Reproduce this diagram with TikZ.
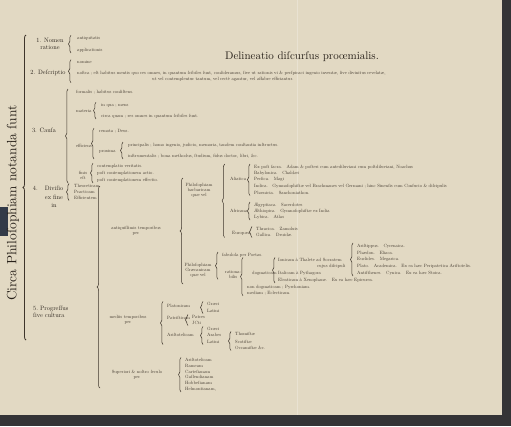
\documentclass[tikz,border=0pt]{standalone}
\usepackage{fontspec}
\setmainfont{lmroman10-regular.otf}
\usetikzlibrary{decorations.pathreplacing}
\definecolor{paper}{RGB}{226,217,195}
\definecolor{ink}{RGB}{62,53,43}
\definecolor{inkd}{RGB}{40,33,26}
\definecolor{edge}{RGB}{52,52,54}
\definecolor{edgeb}{RGB}{50,58,72}
\tikzset{
    it/.style={font=\fontsize{4.6}{5}\selectfont, text=ink, inner sep=0pt, anchor=west, align=left},
    lb/.style={it, anchor=center, align=center},
    hd/.style={font=\fontsize{6.3}{7.5}\selectfont, text=inkd, inner sep=0pt, align=center},
    brc/.style={draw=ink, line width=.5pt, decorate, decoration={brace, amplitude=2.5pt}},
}
\newcommand{\spanbrace}[4][5pt]{%
    \draw[brc] ([xshift=-#1,yshift=-.7pt]#2 |- #4.south) -- ([xshift=-#1,yshift=.7pt]#2 |- #3.north);}

\begin{document}
\begin{tikzpicture}[x=1pt,y=-1pt]
    \fill[paper] (0,0) rectangle (511,426);
    \useasboundingbox (0,0) rectangle (511,426);
    \draw[paper!75!white, line width=.8pt] (297,0) -- (297,415);
    \fill[edge] (502,0) rectangle (511,426);
    \fill[edge] (0,415) rectangle (511,426);
    \fill[edgeb] (0,207) rectangle (8,236);

    \node[inner sep=0pt, text=inkd, font=\fontsize{11}{12}\selectfont] (title) at (302,57)
    {Delineatio diſcurſus proœmialis.};
    \node[inner sep=0pt, text=inkd, font=\fontsize{13.5}{14}\selectfont, rotate=90] (circa) at (13,203)
    {Circa Philoſophiam notanda ſunt};
    \coordinate (m1) at (26,35);
    \coordinate (m2) at (26,340);
    \draw[brc, line width=.8pt, decoration={brace, amplitude=3pt}] (m2) -- (m1);

    \node[hd] (nomen) at (50,44) {1. Nomen\\ratione};
    \node[it] (nm1) at (77,38) {antiquitatis};
    \node[it] (nm2) at (77,50) {applicationis};
    \spanbrace[6pt]{nm1.west}{nm1}{nm2}

    \node[hd] (descr) at (48,73) {2. Deſcriptio};
    \node[it] (ds1) at (77,62) {nomine};
    \node[it] (ds2) at (77,76.5)
    {noſtra ; eſt habitus mentis quo res omnes, in quantum ſcibiles ſunt, conſideramus, ſive ut rationis vi \& perſpicaci ingenio inventæ, ſive divinitus revelatæ,\\[1.6pt]
    \hspace*{75pt}ut vel contemplentur tantum, vel rectè agantur, vel affabre efficiantur.};
    \spanbrace[6pt]{ds1.west}{ds1}{ds2}

    \node[hd] (causa) at (44,130) {3. Cauſa};
    \node[it] (cf) at (76,92) {formalis ; habitus conſiſtens.};
    \node[it] (cm) at (76,111) {materia};
    \node[it] (cm1) at (101,105) {in qua ; mens};
    \node[it] (cm2) at (101,116) {circa quam ; res omnes in quantum ſcibiles ſunt.};
    \spanbrace{cm1.west}{cm1}{cm2}
    \node[it] (ce) at (76,146) {efficiens};
    \node[it] (ce1) at (99,131) {remota ; Deus.};
    \node[it] (ce2) at (99,151) {proxima};
    \node[it] (cp1) at (128,145) {principalis ; homo ingenio, judicio, memoria, tandem conſtantia inſtructus.};
    \node[it] (cp2) at (128,156) {inſtrumentalis ; bona methodus, ſtudium, fidus doctor, libri, \&c.};
    \spanbrace{ce1.west}{ce1}{cp2}
    \spanbrace{cp1.west}{cp1}{cp2}
    \node[lb] (cfin) at (83,175) {finis\\eſt};
    \node[it] (cf1) at (97,166) {contemplatio veritatis.};
    \node[it] (cf2) at (97,173) {poſt contemplationem actio.};
    \node[it] (cf3) at (97,180) {poſt contemplationem effectio.};
    \spanbrace[4pt]{cf1.west}{cf1}{cf3}
    \spanbrace[8pt]{cf.west}{cf}{cf3}

    \node[hd] (divis) at (54,197) {\llap{4.\hspace{7pt}}Diviſio\\[1pt]ex fine\\[1pt]in};
    \node[it] (dv1) at (74,186) {Theoreticam};
    \node[it] (dv2) at (74,192) {Practicam};
    \node[it] (dv3) at (74,198) {Efficientem};
    \spanbrace{dv1.west}{dv1}{dv3}

    \node[hd, anchor=west, align=left] (progr) at (33,312) {5.~Progreſſus\\ſive cultura};
    \coordinate (pr1) at (100,186);
    \coordinate (pr2) at (100,388);
    \draw[brc, decoration={brace, amplitude=3pt}] (pr2) -- (pr1);

    \node[lb] (antiq) at (136,231) {antiquiſſimis temporibus\\per};
    \coordinate (an1) at (183,178);
    \coordinate (an2) at (183,284);
    \draw[brc, decoration={brace, amplitude=3pt}] (an2) -- (an1);

    \node[lb] (barb) at (199,190) {Philoſophiam\\barbaricam\\quæ vel};
    \node[it] (asia) at (230,179) {Aſiatica};
    \node[it] (as1) at (254,167) {Ex poſt ſacra.\quad Adam \& poſteri cum antediluviani cum poſtdiluviani, Noachus};
    \node[it] (as2) at (254,173) {Babylonica.\quad Chaldæi};
    \node[it] (as3) at (254,179) {Perſica.\quad Magi};
    \node[it] (as4) at (254,186) {Indica.\quad Gymnoſophiſtæ vel Brachmanes vel Germani ; hinc Sinenſis cum Confucio \& diſcipulis};
    \node[it] (as5) at (254,193) {Phœnicia.\quad Sanchoniathon.};
    \spanbrace[4pt]{as1.west}{as1}{as5}
    \node[it] (afri) at (230,211) {Africana};
    \node[it] (af1) at (254,205) {Ægyptiaca.\quad Sacerdotes};
    \node[it] (af2) at (254,211) {Æthiopica.\quad Gymnoſophiſtæ ex India};
    \node[it] (af3) at (254,217) {Lybica.\quad Atlas};
    \spanbrace[4pt]{af1.west}{af1}{af3}
    \node[it] (euro) at (232,233) {Europæa};
    \node[it] (eu1) at (256,229) {Thracica.\quad Zamolxis};
    \node[it] (eu2) at (256,235) {Gallica.\quad Druidæ.};
    \spanbrace[4pt]{eu1.west}{eu1}{eu2}
    \spanbrace[-12pt]{barb.east}{as1}{eu2}

    \node[lb] (graec) at (198,270) {Philoſophiam\\Græcanicam\\quæ vel};
    \node[it] (fab) at (222,255) {fabuloſa per Poetas.};
    \node[it, align=center] (ratio) at (225,274.5) {rationa-\\bilis};
    \spanbrace[4pt]{fab.west}{fab}{ratio}
    \node[it] (dogm) at (252,273) {dogmaticam};
    \node[it] (ion) at (278,260) {Ionicam à Thalete ad Socratem};
    \node[it] (cuj) at (317,266) {cujus diſcipuli};
    \node[it] (c1) at (357,246) {Ariſtippus.\quad Cyrenaica.};
    \node[it] (c2) at (357,253) {Phædon.\quad Eliaca.};
    \node[it] (c3) at (357,259) {Euclides.\quad Megarica.};
    \node[it] (c4) at (357,266) {Plato.\quad Academica.\quad Ex ea hæc Peripatetica Ariſtotelis.};
    \node[it] (c5) at (357,273) {Antiſthenes.\quad Cynica.\quad Ex ea hæc Stoica.};
    \spanbrace[4pt]{c1.west}{c1}{c5}
    \node[it] (ital) at (278,273) {Italicam à Pythagora};
    \node[it] (eleat) at (278,280) {Eleaticam à Xenophane.\quad Ex ea hæc Epicurea.};
    \spanbrace[3pt]{ion.west}{ion}{eleat}
    \node[it] (ndog) at (247,287) {non dogmaticam ; Pyrrhoniam.};
    \node[it] (med) at (247,293) {mediam ; Eclecticam.};
    \spanbrace[4pt]{ndog.west}{ion}{med}

    \node[lb] (mediis) at (128,320) {mediis temporibus\\per};
    \node[it] (plat) at (167,306) {Platonicam};
    \node[it] (plg) at (207,304) {Græci};
    \node[it] (pll) at (207,311) {Latini};
    \spanbrace[4pt]{plg.west}{plg}{pll}
    \node[it] (patr) at (167,318) {Patriſticam};
    \node[it] (pp) at (192,317) {Patres};
    \node[it] (pj) at (192,323) {JCti};
    \spanbrace[4pt]{pp.west}{pp}{pj}
    \node[it] (arist) at (167,335) {Ariſtotelicam};
    \node[it] (ag) at (207,329) {Græci};
    \node[it] (aa) at (207,335) {Arabes};
    \node[it] (al) at (207,342) {Latini};
    \spanbrace[4pt]{ag.west}{ag}{al}
    \node[it] (t1) at (235,334) {Thomiſtæ};
    \node[it] (t2) at (235,342) {Scotiſtæ};
    \node[it] (t3) at (235,348) {Occamiſtæ \&c.};
    \spanbrace[4pt]{t1.west}{t1}{t3}
    \spanbrace[4pt]{plat.west}{plg}{al}

    \node[lb] (nostro) at (137,375) {Superiori \& noſtro ſeculo\\per};
    \node[it] (s1) at (185,360) {Ariſtotelicam};
    \node[it] (s2) at (185,366) {Rameam};
    \node[it] (s3) at (185,372) {Carteſianam};
    \node[it] (s4) at (185,377) {Gaſſendianam};
    \node[it] (s5) at (185,383) {Hobbeſianam};
    \node[it] (s6) at (185,389) {Helmontianam,};
    \spanbrace[4pt]{s1.west}{s1}{s6}
\end{tikzpicture}
\end{document}
